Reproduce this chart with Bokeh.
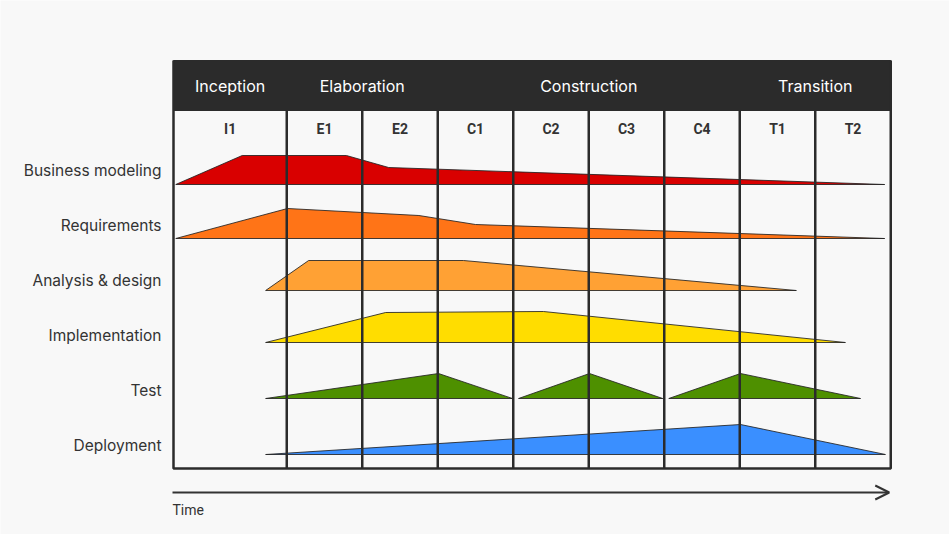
from bokeh.plotting import figure
from bokeh.models import Range1d, Arrow, OpenHead
from bokeh.core.properties import value
from bokeh.embed import file_html
from bokeh.resources import INLINE

# ---------------- data ----------------
phases = ["Inception", "Elaboration", "Construction", "Transition"]
phase_iterations = [1, 2, 4, 2]
iterations = ["I1", "E1", "E2", "C1", "C2", "C3", "C4", "T1", "T2"]
iteration_lengths = [1.5, 1, 1, 1, 1, 1, 1, 1, 1]

activities = ["Business modeling", "Requirements", "Analysis & design",
              "Implementation", "Test", "Deployment"]
activity_colors = ["#D90000", "#FF7417", "#FFA134", "#FFDD00", "#4E9000", "#3A8FFF"]

# time in iteration units (0 = project start), effort heights
business_time = [0.03, 0.91, 2.29, 2.85, 9.42]
business_effort = [0, 29, 29, 17, 0]

requirements_time = [0.03, 1.51, 3.25, 4.00, 9.42]
requirements_effort = [0, 30, 23, 14, 0]

analysis_time = [1.22, 1.79, 3.84, 8.25]
analysis_effort = [0, 30, 30, 0]

implementation_time = [1.22, 2.81, 4.90, 8.90]
implementation_effort = [0, 30, 31, 0]

test_time = [1.22, 3.51, 4.49, 4.57, 5.51, 6.48, 6.56, 7.51, 9.10]
test_effort = [0, 25, 0, 0, 25, 0, 0, 25, 0]

deployment_time = [1.22, 7.51, 9.43]
deployment_effort = [0, 30, 0]

profiles = [
    (business_time, business_effort),
    (requirements_time, requirements_effort),
    (analysis_time, analysis_effort),
    (implementation_time, implementation_effort),
    (test_time, test_effort),
    (deployment_time, deployment_effort),
]

# ---------------- layout ----------------
W, H = 949, 534
UNIT = 75.5            # px per iteration
X0 = 173               # frame left in canvas px
Y0 = 60                # frame top in canvas px

p = figure(width=W, height=H, output_backend="svg", toolbar_location=None,
           x_range=Range1d(-X0 / UNIT, (W - X0) / UNIT),
           y_range=Range1d(H - Y0, -Y0),
           min_border=0)
p.axis.visible = False
p.grid.visible = False
p.outline_line_color = None
p.background_fill_color = "#f8f8f8"
p.border_fill_color = "#f8f8f8"

DARK = "#2b2b2b"
total = sum(iteration_lengths)
header_h = 50
frame_bottom = 408
row_baselines = [124, 178, 230, 282, 338, 394]
row_label_y = [110, 165, 220, 275, 330, 385]

# column boundaries
bounds = [0.0]
for L in iteration_lengths:
    bounds.append(bounds[-1] + L)

# activity humps
for (t, e), base, col in zip(profiles, row_baselines, activity_colors):
    humps, cur = [], []
    for ti, ei in zip(t, e):
        if cur and ei == 0 and cur[-1][1] == 0:
            humps.append(cur)
            cur = []
        cur.append((ti, ei))
    if cur:
        humps.append(cur)
    for h in humps:
        xs = [a for a, _ in h]
        ys = [base - b for _, b in h]
        p.patch(xs, ys, fill_color=col, line_color="#222222",
                line_width=1, line_alpha=0.85)

# header band
p.quad(left=0, right=total, top=0, bottom=header_h, fill_color=DARK, line_color=DARK)

# vertical lines (internal)
p.segment(x0=bounds[1:-1], y0=[header_h] * (len(bounds) - 2),
          x1=bounds[1:-1], y1=[frame_bottom] * (len(bounds) - 2),
          line_color=DARK, line_width=2.5)
# frame
p.line([0, 0, total, total], [0, frame_bottom, frame_bottom, 0],
       line_color=DARK, line_width=2.5)

# phase labels
pcent = []
idx = 0
for n in phase_iterations:
    pcent.append((bounds[idx] + bounds[idx + n]) / 2)
    idx += n
p.text(x=pcent, y=[25] * len(phases), text=phases, text_color="white",
       text_font=value("Inter"), text_font_size=value("16px"),
       text_align="center", text_baseline="middle")

# iteration labels
icent = [(bounds[i] + bounds[i + 1]) / 2 for i in range(len(iterations))]
p.text(x=icent, y=[68] * len(iterations), text=iterations, text_color="#333333",
       text_font=value("Roboto"), text_font_style="bold",
       text_font_size=value("14px"),
       text_align="center", text_baseline="middle")

# activity labels
p.text(x=[-12 / UNIT] * len(activities), y=row_label_y, text=activities,
       text_color="#333333", text_font=value("Inter"), text_font_size=value("15.5px"),
       text_align="right", text_baseline="middle")

# time arrow
p.add_layout(Arrow(end=OpenHead(size=14, line_width=2, line_color="#333333"),
                   x_start=-1 / UNIT, y_start=432, x_end=total - 1.5 / UNIT, y_end=432,
                   line_width=2, line_color="#333333"))
p.text(x=[-1 / UNIT], y=[449], text=["Time"], text_color="#333333",
       text_font=value("Roboto"), text_font_size=value("14px"),
       text_align="left", text_baseline="middle")

open("out.html", "w").write(file_html(p, INLINE))
